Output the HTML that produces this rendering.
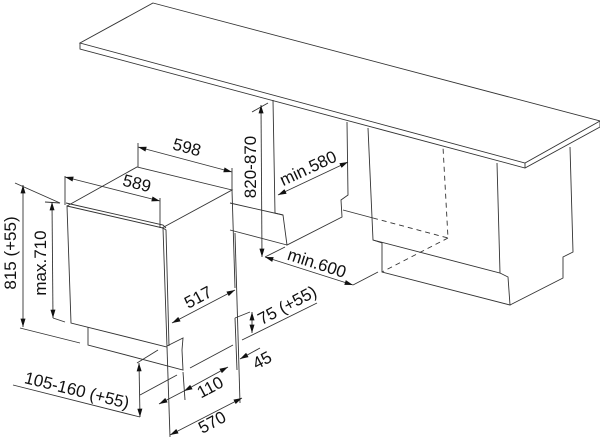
<!DOCTYPE html>
<html><head><meta charset="utf-8"><style>
html,body{margin:0;padding:0;background:#fff;}
svg{display:block;}
text{font-family:"Liberation Sans",sans-serif;font-size:17px;fill:#111;}
</style></head><body>
<svg width="600" height="441" viewBox="0 0 600 441" xmlns="http://www.w3.org/2000/svg">
<defs>
<marker id="a" viewBox="0 0 10 6" refX="10" refY="3" markerWidth="9" markerHeight="5" markerUnits="userSpaceOnUse" orient="auto-start-reverse">
<path d="M0,0 L10,3 L0,6 z" fill="#111"/></marker>
</defs>
<g fill="none" stroke="#333" stroke-width="0.9">
<path d="M153,3 L600,121 L525,163 L80,43 Z"/>
<path d="M80,43 L80,49 L525,168 L600,127 L600,121"/>
<path d="M525,163 L525,168"/>
<path d="M273,100 L275,213 L283,215 L287,245 L342,217 L341,200 L348,195 L347,122"/>
<path d="M230,203 L283,215"/>
<path d="M230,230 L287,245"/>
<path d="M368,128 L373,240 L500,273 L497,163"/>
<path d="M373,240 L382,243 L382,272 L510,305 L508,277 L500,273"/>
<path d="M510,305 L563,278 L563,257 L573,252 L570,147"/>
<path d="M343,210 L373,218"/>
<path d="M373,218 L448,238 L443,147" stroke-dasharray="5,4"/>
<path d="M448,238 L382,272" stroke-dasharray="5,4"/>
<path d="M67,206 L137,167 L232,190 L162,228"/>
<path d="M232,190 L235,288"/>
<path d="M67,206 L163,228 L167,347 L71,323 Z"/>
<path d="M66,203 L163,225 L166,228"/>
<path d="M163,228 L166,230 L169,346"/>
<path d="M88,327 L88,345 L183,370 L182,350 L183,338 L167,346"/>
<path d="M190,368 L233,345"/>
<path d="M183,372 L185,400"/>
<path d="M138,143 L138,167"/>
<path d="M232,168 L232,190"/>
<path d="M65,176 L65,205"/>
<path d="M160,198 L160,228"/>
<path d="M15,183 L60,203"/>
<path d="M45,202 L60,203"/>
<path d="M20,328 L80,343"/>
<path d="M53,318 L65,322"/>
<path d="M235,233 L240,403"/>
<path d="M167,347 L170,437"/>
<path d="M235,318 L237,370"/>
<path d="M235,318 L250,312"/>
<path d="M242,340 L317,303"/>
<path d="M13,385 L140,417"/>
<path d="M137,363 L158,350"/>
<path d="M140,395 L177,375"/>
<path d="M252,112 L268,103"/>
<path d="M353,285 L378,272"/>
<path d="M265,257 L285,247"/>
<path d="M138,147 L232,172" marker-start="url(#a)" marker-end="url(#a)"/>
<path d="M65,177 L160,201" marker-start="url(#a)" marker-end="url(#a)"/>
<path d="M23,185 L23,327" marker-start="url(#a)" marker-end="url(#a)"/>
<path d="M52,202 L53,318" marker-start="url(#a)" marker-end="url(#a)"/>
<path d="M172,323 L235,290" marker-start="url(#a)" marker-end="url(#a)"/>
<path d="M170,435 L242,398" marker-start="url(#a)" marker-end="url(#a)"/>
<path d="M159,404 L184,391" marker-start="url(#a)"/>
<path d="M184,391 L228,367" marker-start="url(#a)" marker-end="url(#a)"/>
<path d="M240,359 L260,348" marker-start="url(#a)"/>
<path d="M252,312 L252,333" marker-start="url(#a)" marker-end="url(#a)"/>
<path d="M139,363 L140,417" marker-start="url(#a)" marker-end="url(#a)"/>
<path d="M261,105 L262,257" marker-start="url(#a)" marker-end="url(#a)"/>
<path d="M278,195 L348,162" marker-start="url(#a)" marker-end="url(#a)"/>
<path d="M265,257 L353,285" marker-start="url(#a)" marker-end="url(#a)"/>
</g>
<text x="187" y="153" text-anchor="middle" transform="rotate(15 187 147)">598</text>
<text x="137" y="189" text-anchor="middle" transform="rotate(14 137 183)">589</text>
<text x="10" y="259" text-anchor="middle" transform="rotate(-90 10 253)">815 (+55)</text>
<text x="40" y="269" text-anchor="middle" transform="rotate(-90 40 263)">max.710</text>
<text x="198" y="303" text-anchor="middle" transform="rotate(-28 198 297)">517</text>
<text x="287" y="311" text-anchor="middle" transform="rotate(-28 287 305)">75 (+55)</text>
<text x="262" y="366" text-anchor="middle" transform="rotate(-28 262 360)">45</text>
<text x="210" y="393" text-anchor="middle" transform="rotate(-28 210 387)">110</text>
<text x="212" y="428" text-anchor="middle" transform="rotate(-28 212 422)">570</text>
<text x="77" y="396" text-anchor="middle" transform="rotate(14 77 390)">105-160 (+55)</text>
<text x="250" y="173" text-anchor="middle" transform="rotate(-90 250 167)">820-870</text>
<text x="308" y="174" text-anchor="middle" transform="rotate(-25 308 168)">min.580</text>
<text x="317" y="269" text-anchor="middle" transform="rotate(18 317 263)">min.600</text>
</svg>
</body></html>
